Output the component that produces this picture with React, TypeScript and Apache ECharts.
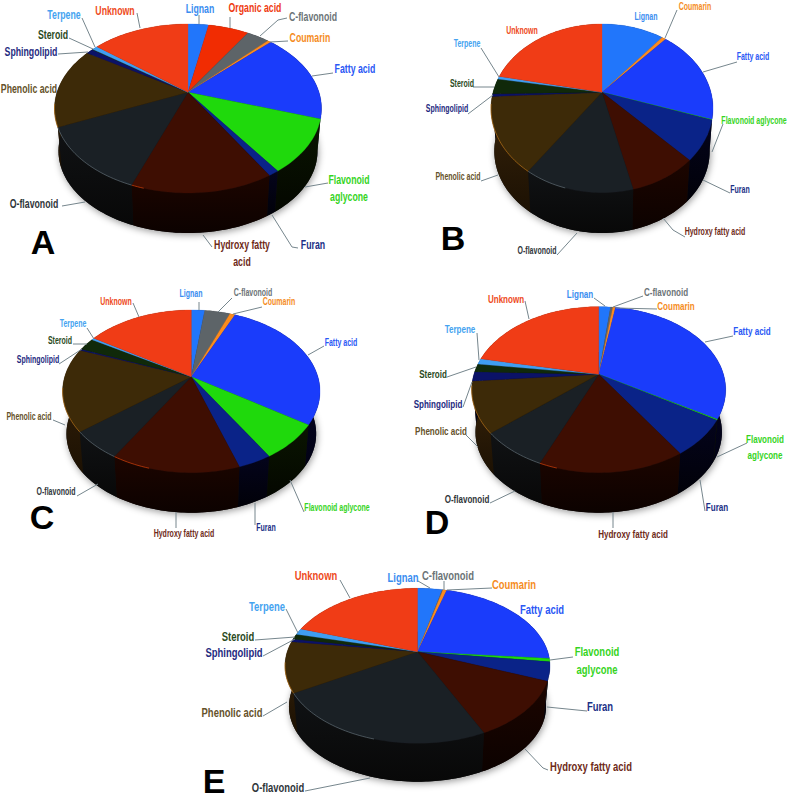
import React, { useEffect, useRef } from "react";
import * as echarts from "echarts";

const categories = ["Lignan","Organic acid","C-flavonoid","Coumarin","Fatty acid","Flavonoid aglycone","Furan","Hydroxy fatty acid","O-flavonoid","Phenolic acid","Sphingolipid","Steroid","Terpene","Unknown"];

const valuesA = [3.0,5.9,3.3,0.5,17.3,10.2,1.1,14.45,12.75,15.4,1.0,0.1,0.8,14.2];
const valuesB = [10.9,0,0,0.7,18.5,0.1,7.6,8.45,13.45,14.5,0.5,3.0,0.55,21.75];
const valuesC = [2.0,0,3.8,0.8,27.7,7.0,3.6,13.7,5.7,16.5,0.3,2.5,0.4,16.0];
const valuesD = [1.8,0,0.35,0.4,30.95,0.15,7.05,15.7,7.4,9.9,1.8,1.6,1.1,21.8];
const valuesE = [3.6,0,0.1,0.55,22.15,0.7,3.9,12.0,23.6,10.6,0.6,1.1,1.3,19.8];

const topColors = ["#2176fb","#f12c02","#5d6468","#fb8b1e","#1a3cfb","#1fd90c","#0a2388","#3e0e02","#1a2025","#3d2a08","#0b1267","#10290a","#3f9ef2","#f03c16"];
const wallTop = ["#0a2f70","#5a1000","#24272a","#5a3000","#05052e","#0a1501","#04041c","#1c0500","#101214","#38240a","#05082a","#081405","#123c60","#5a1606"];
const wallBottom = ["#04122e","#240600","#0c0d0e","#241200","#020214","#040700","#010108","#0c0200","#080808","#1c1103","#020310","#030702","#06182a","#240802"];
const rimColors: Record<number,string> = { 7: "#d2400a", 8: "#5f6c74", 9: "#b9741a" };
const labelColors = ["#3a8df0","#ee3a10","#6c7477","#f58c1d","#2a58f5","#36d41e","#1a2f86","#6e2a18","#30363a","#65522a","#1e2a80","#2a4a1c","#45a3f0","#ee4a22"];

const labelsA = ["Lignan","Organic acid","C-flavonoid","Coumarin","Fatty acid","Flavonoid\naglycone","Furan","Hydroxy fatty\nacid","O-flavonoid","Phenolic acid","Sphingolipid","Steroid","Terpene","Unknown"];
const labelsOther = ["Lignan","","C-flavonoid","Coumarin","Fatty acid","Flavonoid aglycone","Furan","Hydroxy fatty acid","O-flavonoid","Phenolic acid","Sphingolipid","Steroid","Terpene","Unknown"];
const labelsB = labelsOther.map((s, i) => (i === 2 ? "" : s));
const labelsC = labelsOther;
const labelsD = labelsOther.map((s, i) => (i === 5 ? "Flavonoid\naglycone" : s));
const labelsE = labelsD;

type Pt = [number, number];
type Geo = { cx: number; ay: number; top: number; front: number; wall: number; rx: number; font: number; letter: string; lx: number; ly: number };

const geoA: Geo = { cx: 188, ay: 92.3, top: 24, front: 193, wall: 233, rx: 133.5, font: 12.5, letter: "A", lx: 43, ly: 242 };
const geoB: Geo = { cx: 602, ay: 92.3, top: 24, front: 192.7, wall: 233, rx: 111, font: 10, letter: "B", lx: 453, ly: 238 };
const geoC: Geo = { cx: 191.3, ay: 376.7, top: 310, front: 472.7, wall: 512.7, rx: 128.7, font: 10, letter: "C", lx: 42, ly: 517 };
const geoD: Geo = { cx: 598.7, ay: 374.3, top: 306.7, front: 472.7, wall: 512.7, rx: 127, font: 11.5, letter: "D", lx: 437, ly: 522 };
const geoE: Geo = { cx: 417.5, ay: 651.7, top: 588.3, front: 743.3, wall: 781.7, rx: 132.5, font: 13.5, letter: "E", lx: 214, ly: 781 };

// label centre positions and leader lines, per category index
const placeA: [number, number, Pt[]][] = [
  [200,8,[[199,15],[199,24]]],[255,7,[[230,17],[230,28]]],[313,16,[[287,18],[278,20],[260,36]]],[310,37,[[288,41],[270,42]]],
  [355,68,[[333,73],[312,76]]],[349,188,[[328,183],[305,187]]],[313,244,[[298,248],[292,247],[272,215]]],[242,253,[[212,247],[203,235]]],
  [34,203,[[62,206],[85,202]]],[29,88,[]],[31,51,[[58,54],[88,52]]],[53,34,[[69,38],[93,49]]],[64,14,[[82,18],[95,47]]],[115,10,[[137,13],[140,28]]],
];
const placeB: [number, number, Pt[]][] = [
  [646,17,[]],[0,0,[]],[0,0,[]],[695,7,[[677,10],[665,38]]],
  [753,57,[[737,62],[703,72]]],[754,121,[[723,124],[712,152]]],[740,190,[[730,193],[703,180]]],[715,232,[[685,237],[673,230],[663,218]]],
  [537,251,[[557,255],[577,233]]],[458,177,[[481,181],[498,175]]],[447,109,[[468,114],[493,95]]],[462,84,[[473,87],[494,87]]],[467,44,[[481,48],[499,77]]],[522,31,[]],
];
const placeC: [number, number, Pt[]][] = [
  [191,294,[[199,302],[199,310]]],[0,0,[]],[253,293,[[232,298],[218,312]]],[279,302,[[262,307],[233,314]]],
  [341,343,[[324,346],[308,355]]],[337,508,[[304,512],[290,480]]],[266,528,[[255,525],[255,503]]],[184,534,[[176,528],[176,512]]],
  [56,492,[[77,496],[98,484]]],[29,417,[[53,420],[65,425]]],[38,360,[[59,364],[82,349]]],[60,341,[[73,344],[87,344]]],[73,324,[[87,328],[94,339]]],[116,302,[[133,303],[139,317]]],
];
const placeD: [number, number, Pt[]][] = [
  [580,294,[[594,298],[605,306]]],[0,0,[]],[666,292,[[643,296],[613,307]]],[676,306,[[657,309],[616,308]]],
  [752,331,[[733,336],[705,342]]],[765,447,[[747,443],[717,457]]],[717,507,[[705,511],[700,480]]],[633,534,[[613,528],[613,512]]],
  [467,499,[[490,503],[515,491]]],[441,431,[[466,435],[478,447]]],[438,404,[[463,407],[472,382]]],[433,374,[[447,377],[476,367]]],[460,329,[[477,333],[479,360]]],[506,299,[[525,301],[529,319]]],
];
const placeE: [number, number, Pt[]][] = [
  [403,577,[[418,581],[430,588]]],[0,0,[]],[448,575,[[444,581],[444,590]]],[514,584,[[492,588],[447,590]]],
  [542,609,[]],[597,660,[[573,657],[550,660]]],[600,706,[[587,711],[547,707]]],[591,766,[[548,770],[543,768],[525,749]]],
  [278,787,[[305,791],[370,778]]],[232,712,[[263,716],[287,702]]],[234,652,[[263,656],[295,639]]],[238,636,[[255,640],[295,637]]],[267,606,[[286,609],[298,633]]],[316,575,[[340,580],[350,598]]],
];

const FONT = '"Liberation Sans",sans-serif';
const NARROW = 0.7;

function makeProjector(g: Geo) {
  const up = g.ay - g.top, down = g.front - g.ay;
  const k = (down - up) / (down + up);
  const B = up * (1 + k);
  const A = g.rx * Math.sqrt(1 - k * k);
  const cyT = (g.top + g.front) / 2;
  const s = 0.97;
  const off = g.wall - (cyT + (g.front - cyT) * s);
  const topPt = (deg: number): Pt => {
    const t = (deg * Math.PI) / 180;
    const u = Math.sin(t), v = -Math.cos(t), w = 1 - k * v;
    return [g.cx + (A * u) / w, g.ay + (B * v) / w];
  };
  const botPt = (deg: number): Pt => {
    const p = topPt(deg);
    return [g.cx + (p[0] - g.cx) * s, cyT + (p[1] - cyT) * s + off];
  };
  return { topPt, botPt };
}

function arc(f: (d: number) => Pt, a: number, b: number): Pt[] {
  const n = Math.max(2, Math.ceil((b - a) / 1.5));
  const out: Pt[] = [];
  for (let i = 0; i <= n; i++) out.push(f(a + ((b - a) * i) / n));
  return out;
}

function pieSeries(values: number[], labels: string[], place: [number, number, Pt[]][], g: Geo): any[] {
  const { topPt, botPt } = makeProjector(g);
  const apex: Pt = [g.cx, g.ay];
  const total = values.reduce((a, b) => a + b, 0);
  const angles = (i: number, v: number) => {
    const before = values.slice(0, i).reduce((a, b) => a + b, 0);
    return [(before / total) * 360, ((before + v) / total) * 360];
  };
  const data = values.map((v) => [v]);
  const walls = {
    type: "custom", coordinateSystem: "none", silent: true, z: 1, data,
    renderItem: (p: any, api: any) => {
      const i = p.dataIndex, v = api.value(0);
      const children: any[] = [];
      if (i === 0) {
        children.push({ type: "polygon", shape: { points: arc(botPt, 0, 360) },
          style: { fill: "#111", shadowBlur: 7, shadowColor: "rgba(0,0,0,0.4)", shadowOffsetX: 1, shadowOffsetY: 2 } });
      }
      if (v > 0) {
        const [a, b] = angles(i, v);
        const pts = [...arc(topPt, a, b), ...arc(botPt, a, b).reverse()];
        children.push({ type: "polygon", shape: { points: pts },
          style: { fill: new echarts.graphic.LinearGradient(0, 0, 0, 1, [
            { offset: 0, color: wallTop[i] }, { offset: 1, color: wallBottom[i] }]) } });
      }
      return { type: "group", children };
    },
  };
  const tops = {
    type: "custom", coordinateSystem: "none", silent: true, z: 2, data,
    renderItem: (p: any, api: any) => {
      const i = p.dataIndex, v = api.value(0);
      if (!(v > 0)) return null;
      const [a, b] = angles(i, v);
      const children: any[] = [{ type: "polygon", shape: { points: [apex, ...arc(topPt, a, b)] },
        style: { fill: topColors[i], stroke: topColors[i], lineWidth: 0.3 } }];
      const lo = Math.max(a, 196), hi = Math.min(b, 262);
      if (rimColors[i] && hi > lo) {
        children.push({ type: "polyline", shape: { points: arc(topPt, lo, hi) },
          style: { fill: "none", stroke: rimColors[i], lineWidth: 1, opacity: 0.7 } });
      }
      return { type: "group", children };
    },
  };
  const texts = {
    type: "custom", coordinateSystem: "none", silent: true, z: 3, data,
    renderItem: (p: any, api: any) => {
      const i = p.dataIndex, v = api.value(0);
      if (!(v > 0) || !labels[i]) return null;
      const [x, y, line] = place[i];
      const children: any[] = [];
      if (line.length) children.push({ type: "polyline", shape: { points: line },
        style: { fill: "none", stroke: "#76868d", lineWidth: 1 } });
      children.push({ type: "text", x, y, scaleX: NARROW, style: { text: labels[i], x: 0, y: 0, fill: labelColors[i], align: "center", verticalAlign: "middle",
        font: `bold ${g.font}px ${FONT}`, lineHeight: g.font * 1.35 } });
      return { type: "group", children };
    },
  };
  return [walls, tops, texts];
}

export default function App() {
  const ref = useRef<HTMLDivElement>(null);
  useEffect(() => {
    const chart = echarts.init(ref.current!, undefined, { renderer: "svg" });
    const geos = [geoA, geoB, geoC, geoD, geoE];
    chart.setOption({
      animation: false,
      backgroundColor: "#ffffff",
      series: [
        ...pieSeries(valuesA, labelsA, placeA, geoA),
        ...pieSeries(valuesB, labelsB, placeB, geoB),
        ...pieSeries(valuesC, labelsC, placeC, geoC),
        ...pieSeries(valuesD, labelsD, placeD, geoD),
        ...pieSeries(valuesE, labelsE, placeE, geoE),
      ],
      graphic: geos.map((g) => ({ type: "text", z: 10, style: { text: g.letter, x: g.lx, y: g.ly, fill: "#000", align: "center", verticalAlign: "middle",
        font: 'bold 34px "Liberation Sans",sans-serif' } })),
    });
    return () => chart.dispose();
  }, []);
  return <div ref={ref} data-cats={categories.length} style={{ position: "absolute", left: 0, top: 0, width: 787, height: 800 }} />;
}
